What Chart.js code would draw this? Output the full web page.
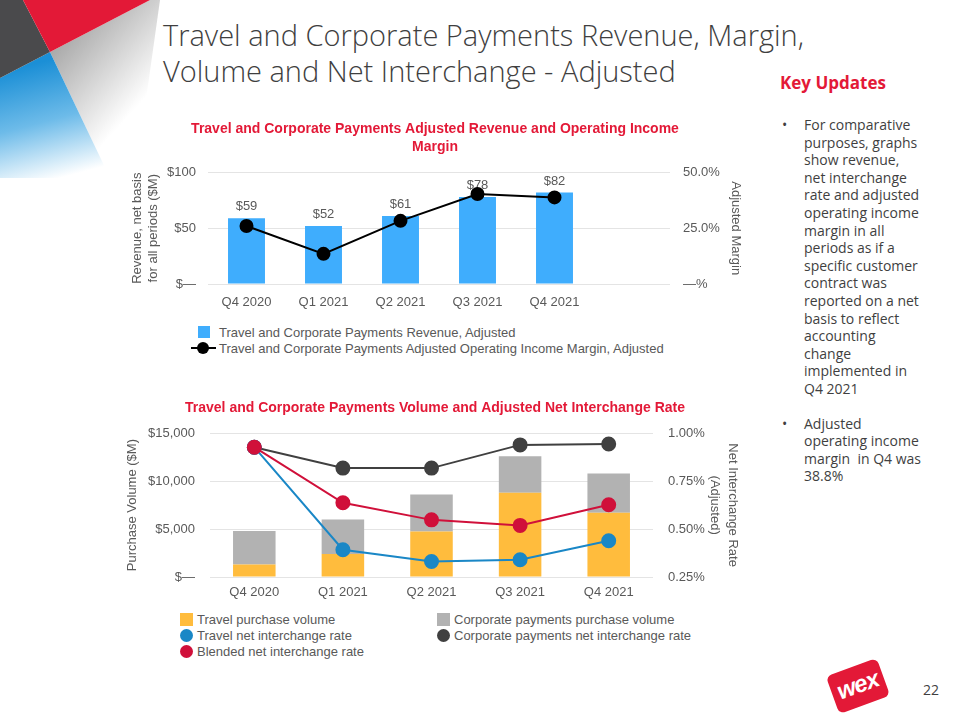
<!DOCTYPE html>
<html>
<head>
<meta charset="utf-8">
<title>Travel and Corporate Payments</title>
<script src="https://cdn.jsdelivr.net/npm/chart.js@4.4.1/dist/chart.umd.min.js"></script>
<style>
  body { margin: 0; width: 960px; height: 720px; position: relative; overflow: hidden; background: #fff; font-family: "Liberation Sans", Arial, sans-serif; }
  .deco { position: absolute; left: 0; top: 0; }
  .slide-title { position: absolute; left: 163px; top: 17px; font-family: "Open Sans", sans-serif; font-weight: 300; font-size: 29px; line-height: 36px; color: #3f3f3f; white-space: nowrap; }
  .side { position: absolute; left: 780px; top: 71px; font-family: "Open Sans", sans-serif; color: #3f3f3f; }
  .side h2 { margin: 0 0 22px 0; font-size: 17px; font-weight: 700; color: #e31937; }
  .side ul { margin: 0; padding: 0; list-style: none; }
  .side li { position: relative; padding-left: 24px; font-size: 14px; line-height: 17.6px; margin-bottom: 17px; white-space: nowrap; }
  .side li::before { content: "\2022"; position: absolute; left: 2px; top: 0; }
  .box { position: absolute; }
  .legend { position: absolute; font-size: 13px; color: #595959; }
  .legend .item { display: flex; align-items: center; height: 16px; white-space: nowrap; }
  .mk { display: inline-block; flex: none; position: relative; }
  .mk.sq { width: 12px; height: 12px; }
  .mk.dot { width: 13px; height: 13px; border-radius: 50%; }
  .mk.line { width: 25px; height: 12px; }
  .mk.line::before { content: ""; position: absolute; left: 0; right: 0; top: 5px; height: 2px; background: var(--c); }
  .mk.line::after { content: ""; position: absolute; left: 6px; top: 0; width: 12px; height: 12px; border-radius: 50%; background: var(--c); }
  #legend1 { left: 191px; top: 324px; }
  #legend1 .mk.sq { margin: 0 9px 0 7px; }
  #legend1 .mk.line { margin-right: 3px; }
  #legend2 { left: 180px; top: 611px; display: grid; grid-template-columns: 257px auto; row-gap: 0; }
  #legend2 .mk { margin-right: 4px; }
  #legend2 .mk.sq { width: 13px; height: 13px; }
  .logo { position: absolute; left: 831px; top: 666px; width: 54px; height: 40px; background: #e31937; border-radius: 6px; transform: rotate(-20deg); color: #fff; font: italic 700 24px "Liberation Sans", Arial, sans-serif; text-align: center; line-height: 38px; letter-spacing: -1px; }
  .page { position: absolute; left: 923px; top: 680px; font-family: "Open Sans", sans-serif; font-size: 14px; color: #3f3f3f; }
</style>
</head>
<body>

<svg class="deco" width="240" height="190" viewBox="0 0 240 190">
  <defs>
    <linearGradient id="gGrey" x1="50" y1="52" x2="125" y2="120" gradientUnits="userSpaceOnUse">
      <stop offset="0" stop-color="#a9a9a9"/>
      <stop offset="1" stop-color="#ffffff"/>
    </linearGradient>
    <linearGradient id="gBlue" x1="30" y1="65" x2="60" y2="178" gradientUnits="userSpaceOnUse">
      <stop offset="0" stop-color="#1b8fd6"/>
      <stop offset="0.5" stop-color="#6dbbe9"/>
      <stop offset="1" stop-color="#ffffff"/>
    </linearGradient>
  </defs>
  <polygon points="50,52 150,0 160,0 135,178 110,178" fill="url(#gGrey)"/>
  <polygon points="0,78 50,52 110,178 0,178" fill="url(#gBlue)"/>
  <polygon points="0,0 23,0 50,52 0,78" fill="#4a4a4c"/>
  <polygon points="23,0 150,0 50,52" fill="#e31937"/>
</svg>

<div class="slide-title">Travel and Corporate Payments Revenue, Margin,<br>Volume and Net Interchange - Adjusted</div>

<div class="side">
  <h2>Key Updates</h2>
  <ul>
    <li>For comparative<br>purposes, graphs<br>show revenue,<br>net interchange<br>rate and adjusted<br>operating income<br>margin in all<br>periods as if a<br>specific customer<br>contract was<br>reported on a net<br>basis to reflect<br>accounting<br>change<br>implemented in<br>Q4 2021</li>
    <li>Adjusted<br>operating income<br>margin&nbsp; in Q4 was<br>38.8%</li>
  </ul>
</div>

<div class="box" style="left:120px; top:112px; width:630px; height:200px;"><canvas id="revenueChart"></canvas></div>
<div class="legend" id="legend1"></div>

<div class="box" style="left:120px; top:398px; width:630px; height:210px;"><canvas id="volumeChart"></canvas></div>
<div class="legend" id="legend2"></div>

<div class="logo">wex</div>
<div class="page">22</div>

<script>
// shared categories
const quarters = ['Q4 2020', 'Q1 2021', 'Q2 2021', 'Q3 2021', 'Q4 2021'];

// revenue chart
const revenue = [59, 52, 61, 78, 82];
const operatingMargin = [26.0, 13.5, 28.3, 40.3, 38.8];
const revenueTicks = ['$\u2014', '$50', '$100'];
const marginTicks = ['\u2014%', '25.0%', '50.0%'];

// volume chart
const travelVolume = [1300, 2400, 4750, 8800, 6700];
const corporateVolume = [3500, 3600, 3850, 3800, 4100];
const travelRate = [0.927, 0.392, 0.331, 0.340, 0.439];
const corporateRate = [0.927, 0.818, 0.818, 0.939, 0.944];
const blendedRate = [0.927, 0.637, 0.548, 0.519, 0.627];
const volumeTicks = ['$\u2014', '$5,000', '$10,000', '$15,000'];
const rateTicks = ['0.25%', '0.50%', '0.75%', '1.00%'];

const grey = '#595959';
const red = '#e31937';
const tickFont = { family: '"Liberation Sans", Arial, sans-serif', size: 13 };
Chart.defaults.color = grey;
Chart.defaults.font.family = '"Liberation Sans", Arial, sans-serif';

// builds the legend as html so it can sit in columns like the slide
const htmlLegend = {
  id: 'htmlLegend',
  afterUpdate(chart, args, opts) {
    const box = document.getElementById(opts.containerID);
    box.innerHTML = '';
    chart.data.datasets.forEach(ds => {
      const item = document.createElement('div');
      item.className = 'item';
      const mk = document.createElement('span');
      if (ds.type === 'line') {
        mk.className = ds.legendLine ? 'mk line' : 'mk dot';
        mk.style.setProperty('--c', ds.pointBackgroundColor);
        mk.style.background = ds.legendLine ? '' : ds.pointBackgroundColor;
      } else {
        mk.className = 'mk sq';
        mk.style.background = ds.backgroundColor;
      }
      item.appendChild(mk);
      item.appendChild(document.createTextNode(ds.label));
      box.appendChild(item);
    });
  }
};

// $ value above each bar, drawn before the line so the line sits on top
const barValues = {
  id: 'barValues',
  afterDatasetDraw(chart, args) {
    const ds = chart.data.datasets[args.index];
    if (ds.type !== 'bar' || !ds.showValues) return;
    const ctx = chart.ctx;
    ctx.save();
    ctx.font = '13px "Liberation Sans", Arial, sans-serif';
    ctx.fillStyle = grey;
    ctx.textAlign = 'center';
    ctx.textBaseline = 'bottom';
    args.meta.data.forEach((bar, i) => {
      ctx.fillText('$' + ds.data[i], bar.x, bar.y - 5);
    });
    ctx.restore();
  }
};

function fixWidth(w) { return scale => { scale.width = w; }; }
function fixHeight(h) { return scale => { scale.height = h; }; }

new Chart(document.getElementById('revenueChart'), {
  data: {
    labels: quarters.concat(['']),
    datasets: [{
      type: 'bar',
      label: 'Travel and Corporate Payments Revenue, Adjusted',
      data: revenue,
      yAxisID: 'y',
      backgroundColor: '#3fadfd',
      barPercentage: 0.48,
      categoryPercentage: 1,
      showValues: true,
      order: 1
    }, {
      type: 'line',
      label: 'Travel and Corporate Payments Adjusted Operating Income Margin, Adjusted',
      data: operatingMargin,
      yAxisID: 'y1',
      borderColor: '#000',
      borderWidth: 2,
      pointBackgroundColor: '#000',
      pointBorderColor: '#000',
      pointRadius: 6,
      legendLine: true,
      order: 0
    }]
  },
  options: {
    responsive: true,
    maintainAspectRatio: false,
    animation: false,
    layout: { padding: 0 },
    plugins: {
      legend: { display: false },
      tooltip: { enabled: false },
      htmlLegend: { containerID: 'legend1' },
      title: {
        display: true,
        text: ['Travel and Corporate Payments Adjusted Revenue and Operating Income', 'Margin'],
        color: red,
        font: { size: 14, weight: 'bold', lineHeight: 1.3 },
        padding: { top: 8, bottom: 16 }
      }
    },
    scales: {
      x: {
        grid: { display: false },
        border: { display: false },
        ticks: { font: tickFont, color: grey, padding: 3, maxRotation: 0 },
        afterFit: fixHeight(28)
      },
      y: {
        position: 'left',
        min: 0, max: 100,
        ticks: { stepSize: 50, font: tickFont, color: grey, padding: 12, callback: (v, i) => revenueTicks[i] },
        grid: { color: '#e4e4e4', drawTicks: false },
        border: { display: false },
        title: { display: true, text: ['Revenue, net basis', 'for all periods ($M)'], color: grey, font: { size: 13, lineHeight: 1.25 }, padding: { top: 9 } },
        afterFit: fixWidth(88)
      },
      y1: {
        position: 'right',
        min: 0, max: 50,
        ticks: { stepSize: 25, font: tickFont, color: grey, padding: 13, callback: (v, i) => marginTicks[i] },
        grid: { display: false, drawTicks: false },
        border: { display: false },
        title: { display: true, text: 'Adjusted Margin', color: grey, font: { size: 13 }, padding: { top: 7 } },
        afterFit: fixWidth(80)
      }
    }
  },
  plugins: [htmlLegend, barValues]
});

new Chart(document.getElementById('volumeChart'), {
  data: {
    labels: quarters,
    datasets: [{
      type: 'bar',
      label: 'Travel purchase volume',
      data: travelVolume,
      yAxisID: 'y',
      stack: 'vol',
      backgroundColor: '#ffbc3d',
      barPercentage: 0.48,
      categoryPercentage: 1,
      order: 3
    }, {
      type: 'bar',
      label: 'Corporate payments purchase volume',
      data: corporateVolume,
      yAxisID: 'y',
      stack: 'vol',
      backgroundColor: '#b2b2b2',
      barPercentage: 0.48,
      categoryPercentage: 1,
      order: 3
    }, {
      type: 'line',
      label: 'Travel net interchange rate',
      data: travelRate,
      yAxisID: 'y1',
      borderColor: '#1a87c6',
      borderWidth: 2,
      pointBackgroundColor: '#1a87c6',
      pointBorderColor: '#1a87c6',
      pointRadius: 6.5,
      order: 1
    }, {
      type: 'line',
      label: 'Corporate payments net interchange rate',
      data: corporateRate,
      yAxisID: 'y1',
      borderColor: '#404040',
      borderWidth: 2,
      pointBackgroundColor: '#404040',
      pointBorderColor: '#404040',
      pointRadius: 6.5,
      order: 2
    }, {
      type: 'line',
      label: 'Blended net interchange rate',
      data: blendedRate,
      yAxisID: 'y1',
      borderColor: '#d0103a',
      borderWidth: 2,
      pointBackgroundColor: '#d0103a',
      pointBorderColor: '#d0103a',
      pointRadius: 6.5,
      order: 0
    }]
  },
  options: {
    responsive: true,
    maintainAspectRatio: false,
    animation: false,
    layout: { padding: 0 },
    plugins: {
      legend: { display: false },
      tooltip: { enabled: false },
      htmlLegend: { containerID: 'legend2' },
      title: {
        display: true,
        text: 'Travel and Corporate Payments Volume and Adjusted Net Interchange Rate',
        color: red,
        font: { size: 14, weight: 'bold', lineHeight: 1.3 },
        padding: { top: 1, bottom: 16 }
      }
    },
    scales: {
      x: {
        stacked: true,
        grid: { display: false },
        border: { display: false },
        ticks: { font: tickFont, color: grey, padding: 0, maxRotation: 0 },
        afterFit: fixHeight(31)
      },
      y: {
        position: 'left',
        stacked: true,
        min: 0, max: 15000,
        ticks: { stepSize: 5000, font: tickFont, color: grey, padding: 15, callback: (v, i) => volumeTicks[i] },
        grid: { color: '#e4e4e4', drawTicks: false },
        border: { display: false },
        title: { display: true, text: 'Purchase Volume ($M)', color: grey, font: { size: 13 }, padding: { top: 5 } },
        afterFit: fixWidth(90)
      },
      y1: {
        position: 'right',
        min: 0.25, max: 1,
        ticks: { stepSize: 0.25, font: tickFont, color: grey, padding: 15, callback: (v, i) => rateTicks[i] },
        grid: { display: false, drawTicks: false },
        border: { display: false },
        title: { display: true, text: ['Net Interchange Rate', '(Adjusted)'], color: grey, font: { size: 13, lineHeight: 1.4 }, padding: { top: 8 } },
        afterFit: fixWidth(97)
      }
    }
  },
  plugins: [htmlLegend]
});
</script>
</body>
</html>
